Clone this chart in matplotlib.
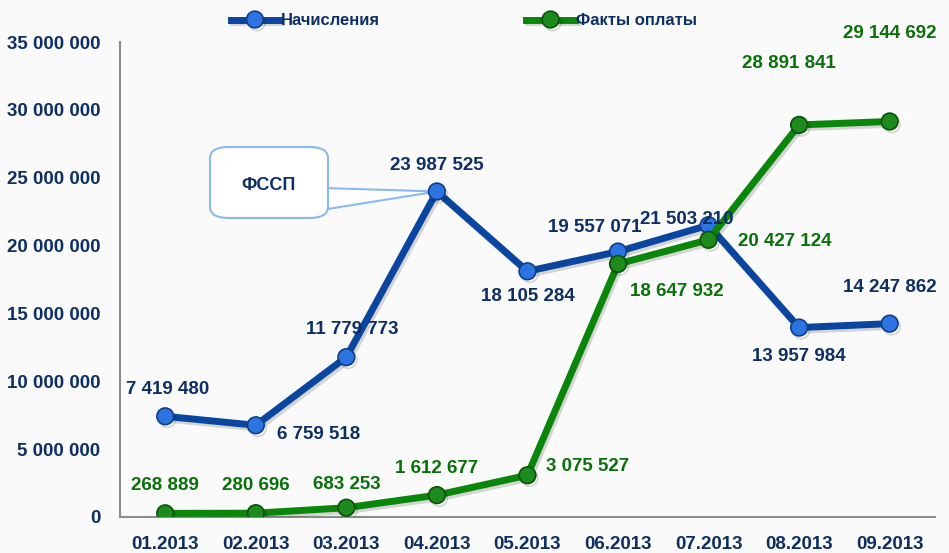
import numpy as np
import matplotlib.pyplot as plt
import matplotlib.patheffects as pe
from matplotlib.patches import FancyBboxPatch

months = ['01.2013', '02.2013', '03.2013', '04.2013', '05.2013',
          '06.2013', '07.2013', '08.2013', '09.2013']
nachisl = [7419480, 6759518, 11779773, 23987525, 18105284,
           19557071, 21503210, 13957984, 14247862]
oplaty = [268889, 280696, 683253, 1612677, 3075527,
          18647932, 20427124, 28891841, 29144692]
yticks = [0, 5000000, 10000000, 15000000, 20000000, 25000000, 30000000, 35000000]

# offsets of the data labels, in points
off_blue = [(2, 19), (45, -7), (4, 20), (0, 19), (0, -18),
            (-17, 17), (-16, 4), (0, -21), (0, 26)]
off_green = [(0, 20), (0, 20), (0, 17), (0, 19), (43, 6),
             (42, -20), (55, -1), (-7, 44), (0, 63)]

navy = '#0E2F63'
blue = '#0A46A0'
green = '#0A870A'
dgreen = '#0B700B'
bg = '#FAFAFA'

plt.rcParams['font.family'] = ['Liberation Sans', 'DejaVu Sans']

fig = plt.figure(figsize=(9.49, 5.53), dpi=100, facecolor=bg)
ax = fig.add_axes([0.1264, 0.0651, 0.8588, 0.8589])
ax.set_facecolor(bg)

x = np.arange(len(months))
shadow = [pe.SimpleLineShadow(offset=(1.5, -2), alpha=0.15), pe.Normal()]
ax.plot(x, nachisl, color=blue, lw=5, marker='o', ms=12,
        mfc='#2D74E3', mec='#123E86', mew=1.2, label='Начисления',
        path_effects=shadow, zorder=3)
ax.plot(x, oplaty, color=green, lw=5, marker='o', ms=12,
        mfc='#1C8A1C', mec='#0A520A', mew=1.2, label='Факты оплаты',
        path_effects=shadow, zorder=3)

def fmt(v):
    return f'{v:,}'.replace(',', ' ')

for i in range(len(months)):
    ax.annotate(fmt(nachisl[i]), (x[i], nachisl[i]), xytext=off_blue[i],
                textcoords='offset points', ha='center', va='center',
                fontsize=13.5, fontweight='bold', color=navy, zorder=5)
    ax.annotate(fmt(oplaty[i]), (x[i], oplaty[i]), xytext=off_green[i],
                textcoords='offset points', ha='center', va='center',
                fontsize=13.5, fontweight='bold', color=dgreen, zorder=5)

# callout "ФССП"
box = FancyBboxPatch((0.2213, 0.6058), 0.1243, 0.1284,
                     boxstyle='round,pad=0,rounding_size=0.02',
                     transform=fig.transFigure, fc='white', ec='#8DB8EE',
                     lw=1.5, zorder=2)
fig.add_artist(box)
ax.annotate('', (x[3], nachisl[3]), xytext=(0.345, 0.641),
            textcoords='figure fraction',
            arrowprops=dict(arrowstyle='wedge,tail_width=1.5,shrink_factor=0.5',
                            fc='white', ec='#8DB8EE', lw=1.5,
                            shrinkA=0, shrinkB=0),
            zorder=2.5)
fig.text(0.2835, 0.665, 'ФССП', ha='center', va='center', fontsize=13,
         fontweight='bold', color=navy, zorder=3)

ax.set_xlim(-0.5, len(months) - 0.5)
ax.set_ylim(0, 35000000)
ax.set_xticks(x)
ax.set_xticklabels(months)
ax.set_yticks(yticks)
ax.set_yticklabels([fmt(v) for v in yticks])
for lab in ax.get_xticklabels() + ax.get_yticklabels():
    lab.set_fontsize(13.5)
    lab.set_fontweight('bold')
    lab.set_color(navy)
ax.tick_params(length=0, pad=14)
for s in ['top', 'right']:
    ax.spines[s].set_visible(False)
for s in ['left', 'bottom']:
    ax.spines[s].set_color('#8C8C8C')
    ax.spines[s].set_linewidth(1.5)

leg = fig.legend(loc='upper center', bbox_to_anchor=(0.489, 1.003), ncol=2,
                 frameon=False, handlelength=2.9, handletextpad=0.1,
                 columnspacing=8.8, prop=dict(size=12, weight='bold'))
for t in leg.get_texts():
    t.set_color(navy)

fig.savefig('out.png', dpi=100, facecolor=bg)
